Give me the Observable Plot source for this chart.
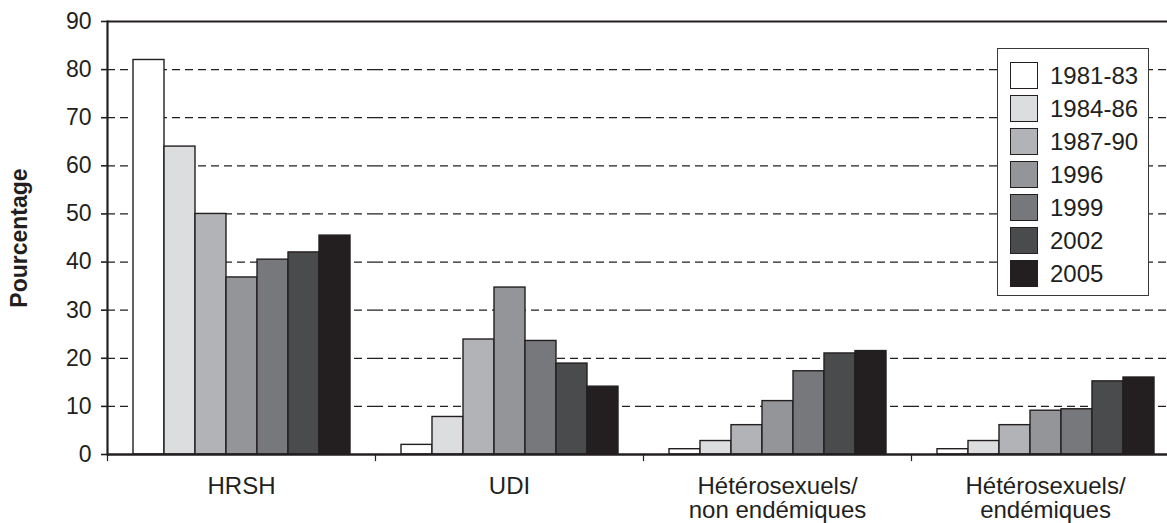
<!DOCTYPE html>
<html>
<head>
<meta charset="utf-8">
<script src="https://cdn.jsdelivr.net/npm/d3@7"></script>
<script src="https://cdn.jsdelivr.net/npm/@observablehq/plot@0.6"></script>
<style>
  body { margin: 0; background: #fff; }
  #wrap { position: relative; width: 1167px; height: 523px; overflow: hidden; font-family: "Liberation Sans", Arial, sans-serif; color: #231f20; }
  #legend { position: absolute; left: 997px; top: 48px; width: 152px; height: 248px; box-sizing: border-box; border: 1.5px solid #3a3a3a; background: #fff; padding: 10px 0 0 12px; }
  .row { display: flex; align-items: center; height: 33px; }
  .sw { width: 28px; height: 27px; box-sizing: border-box; border: 1.2px solid #231f20; margin-right: 12px; flex: none; }
  .lab { font-size: 24px; line-height: 1; }
  [aria-label="y-axis label"] { font-weight: bold; font-size: 23px; }
</style>
</head>
<body>
<div id="wrap"><div id="chart"></div><div id="legend"></div></div>
<script>
const categories = ["HRSH", "UDI", "Hétérosexuels/\nnon endémiques", "Hétérosexuels/\nendémiques"];
const periods = ["1981-83", "1984-86", "1987-90", "1996", "1999", "2002", "2005"];
const colors = ["#ffffff", "#dcdddf", "#b2b3b6", "#939598", "#77787b", "#4a4b4d", "#231f20"];
const hrsh = [82, 64, 50, 36.8, 40.5, 42, 45.5];
const udi = [2.0, 7.8, 23.9, 34.7, 23.6, 18.9, 14.1];
const heteroNonEndemiques = [1.1, 2.8, 6.1, 11.1, 17.3, 21.0, 21.5];
const heteroEndemiques = [1.1, 2.8, 6.1, 9.1, 9.4, 15.2, 16.0];
const yTicks = [0, 10, 20, 30, 40, 50, 60, 70, 80, 90];
const gridValues = [10, 20, 30, 40, 50, 60, 70, 80];

const series = [hrsh, udi, heteroNonEndemiques, heteroEndemiques];
const table = categories.flatMap((cat, i) => periods.map((p, j) => ({cat, period: p, value: series[i][j]})));

const chart = Plot.plot({
  width: 1167,
  height: 523,
  marginLeft: 107,
  marginRight: -12,
  marginTop: 21,
  marginBottom: 69,
  style: {fontFamily: "'Liberation Sans', Arial, sans-serif", fontSize: "23px", color: "#231f20", background: "transparent"},
  fx: {domain: categories, padding: 0},
  x: {domain: periods, paddingInner: 0, paddingOuter: 0.72, axis: null},
  y: {domain: [0, 90]},
  color: {domain: periods, range: colors},
  marks: [
    Plot.ruleY(gridValues, {stroke: "#231f20", strokeWidth: 1.2, strokeDasharray: "8,5"}),
    Plot.barY(table, {fx: "cat", x: "period", y: "value", fill: "period", stroke: "#231f20", strokeWidth: 1.4}),
    Plot.ruleY([90], {stroke: "#231f20", strokeWidth: 2}),
    Plot.ruleY([0], {stroke: "#231f20", strokeWidth: 2.5}),
    Plot.frame({anchor: "left", insetTop: 433, insetBottom: -6, stroke: "#231f20", strokeWidth: 1.2}),
    Plot.frame({anchor: "left", fx: () => categories[0], stroke: "#231f20", strokeWidth: 2.2}),
    Plot.axisY({ticks: yTicks, tickSize: 6, tickPadding: 10, strokeWidth: 1.6, fontSize: 23,
      label: "Pourcentage", labelAnchor: "center", labelArrow: "none", labelOffset: 97}),
    Plot.axisFx({anchor: "bottom", tickSize: 0, tickPadding: 22, label: null, fontSize: 24, lineHeight: 1})
  ]
});
document.getElementById("chart").append(chart);

const legend = document.getElementById("legend");
periods.forEach((p, i) => {
  const row = document.createElement("div");
  row.className = "row";
  const sw = document.createElement("div");
  sw.className = "sw";
  sw.style.background = colors[i];
  const lab = document.createElement("span");
  lab.className = "lab";
  lab.textContent = p;
  row.append(sw, lab);
  legend.append(row);
});
</script>
</body>
</html>
